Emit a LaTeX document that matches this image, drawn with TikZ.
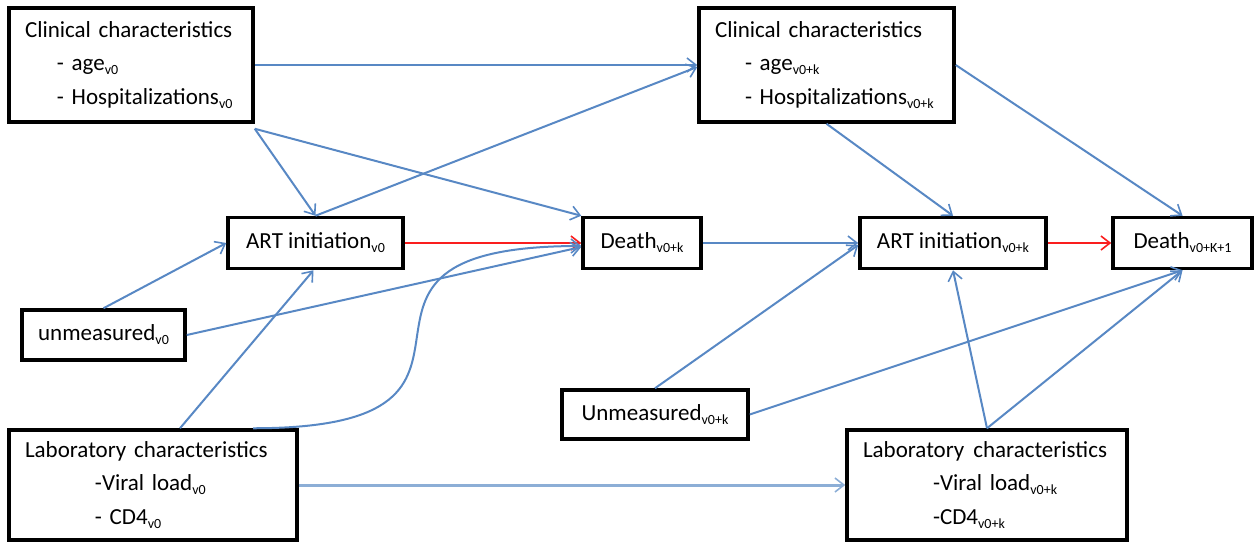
\documentclass[tikz,border=0pt]{standalone}
\usepackage{fontspec}
\setmainfont{Carlito}
\usetikzlibrary{arrows.meta}
\definecolor{linkblue}{RGB}{88,136,196}
\definecolor{lablue}{RGB}{140,174,214}
\definecolor{linkred}{RGB}{250,30,30}
\newcommand\lowsub[1]{\raisebox{-4pt}{\fontsize{14}{14}\selectfont #1}}
\begin{document}
\begin{tikzpicture}[x=1pt,y=-1pt,
  box/.style={draw=black, line width=3.5pt, fill=white, inner sep=0pt,
    font=\fontsize{23}{33.5}\selectfont, text=black},
  multibox/.style={box, align=left, minimum height=#1},
  link/.style={draw=linkblue, line width=2pt,
    -{Straight Barb[length=9pt,width=14pt,line width=1.6pt]}},
  redlink/.style={link, draw=linkred},
  lablink/.style={link, draw=lablue, line width=3pt}
]
\useasboundingbox (0,0) rectangle (1254,542);

% multi-line boxes
\node[multibox=114pt, text width=212pt, inner xsep=16pt] (cl0) at (131,65)
  {Clinical characteristics\\\hspace*{32pt}- age\lowsub{v0}\\\hspace*{32pt}- Hospitalizations\lowsub{v0}};
\node[multibox=114pt, text width=223pt, inner xsep=16pt] (cl1) at (826.5,65)
  {Clinical characteristics\\\hspace*{30pt}- age\lowsub{v0+k}\\\hspace*{30pt}- Hospitalizations\lowsub{v0+k}};
\node[multibox=110pt, text width=256pt, inner xsep=16pt] (lab0) at (153,485)
  {Laboratory characteristics\\\hspace*{70pt}-Viral load\lowsub{v0}\\\hspace*{70pt}- CD4\lowsub{v0}};
\node[multibox=110pt, text width=256pt, inner xsep=12pt] (lab1) at (987,485)
  {\hspace*{4pt}Laboratory\hspace{9pt}characteristics\\\hspace*{74pt}-Viral load\lowsub{v0+k}\\\hspace*{74pt}-CD4\lowsub{v0+k}};

% single-line boxes
\node[box, minimum width=175pt, minimum height=51pt] (art0) at (315.5,243) {ART initiation\lowsub{v0}};
\node[box, minimum width=118pt, minimum height=51pt] (d0) at (642,243) {Death\lowsub{v0+k}};
\node[box, minimum width=186pt, minimum height=51pt] (art1) at (953,243) {ART initiation\lowsub{v0+k}};
\node[box, minimum width=139pt, minimum height=51pt] (dk1) at (1182.5,243) {Death\lowsub{v0+K+1}};
\node[box, minimum width=163pt, minimum height=50pt] (um0) at (103.5,335) {unmeasured\lowsub{v0}};
\node[box, minimum width=186pt, minimum height=49pt] (um1) at (655,414.5) {Unmeasured\lowsub{v0+k}};

% connectors
\draw[link] (cl0.east) -- (cl1.west);
\draw[link] ([yshift=-5pt]cl0.south east) -- (art0.north);
\draw[link] ([yshift=-5pt]cl0.south east) -- (d0.north west);
\draw[link] (art0.north) -- ([yshift=-2pt]cl1.west);
\draw[redlink] (art0.east) -- (d0.west);
\draw[link] (um0.north) -- (art0.west);
\draw[link] (um0.east) -- ([yshift=-4pt]d0.west);
\draw[link] ([xshift=27pt]lab0.north) -- ([xshift=-2pt]art0.south);
\draw[link] ([xshift=100pt]lab0.north) .. controls +(300,0) and +(-300,0) .. ([yshift=-3pt]d0.west);
\draw[lablink] (lab0.east) -- (lab1.west);
\draw[link] (d0.east) -- (art1.west);
\draw[link] (cl1.south) -- (art1.north);
\draw[link] (cl1.east) -- (dk1.north);
\draw[redlink] (art1.east) -- (dk1.west);
\draw[link] (um1.north) -- ([yshift=-2pt]art1.west);
\draw[link] (um1.east) -- (dk1.south);
\draw[link] (lab1.north) -- (art1.south);
\draw[link] (lab1.north) -- (dk1.south);
\end{tikzpicture}
\end{document}
